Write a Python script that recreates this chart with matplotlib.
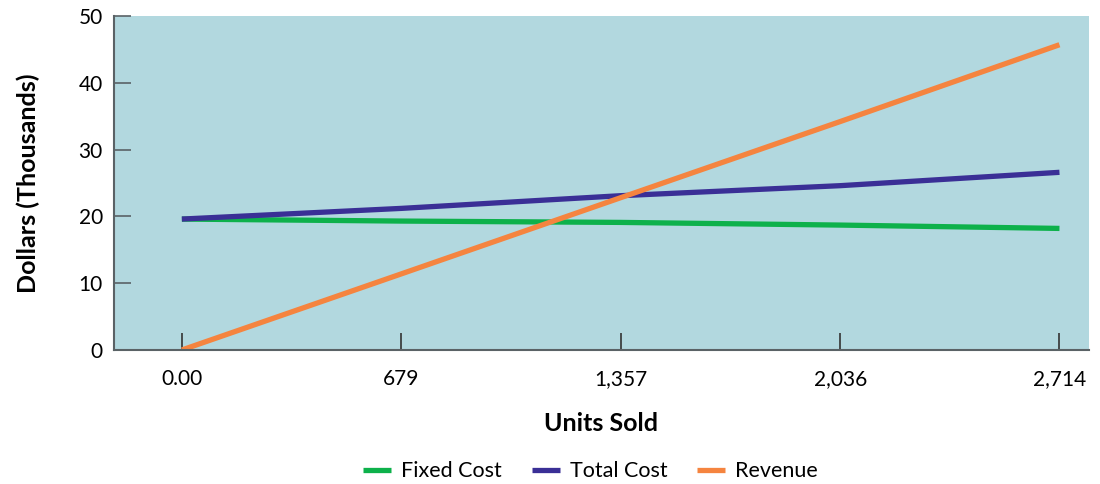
import matplotlib.pyplot as plt
from matplotlib.ticker import FixedLocator

units = [0, 679, 1357, 2036, 2714]
tick_labels = ["0.00", "679", "1,357", "2,036", "2,714"]
fixed_cost = [19.6, 19.3, 19.1, 18.7, 18.2]
total_cost = [19.6, 21.2, 23.1, 24.6, 26.6]
revenue = [0, 11.4, 22.8, 34.2, 45.7]

plt.rcParams['font.family'] = ['Lato', 'DejaVu Sans']

fig = plt.figure(figsize=(11, 4.84), dpi=100)
ax = fig.add_axes([0.1036, 0.2769, 0.886, 0.690])
ax.set_facecolor('#b2d8df')

ax.plot(units, fixed_cost, color='#0db14b', lw=3.8, label='Fixed Cost', solid_capstyle='butt')
ax.plot(units, total_cost, color='#3a2f96', lw=3.8, label='Total Cost', solid_capstyle='butt')
ax.plot(units, revenue, color='#f5843f', lw=3.8, label='Revenue', solid_capstyle='butt')

ax.set_xlim(-210, 2804)
ax.set_ylim(0, 50)
ax.xaxis.set_major_locator(FixedLocator(units))
ax.set_xticklabels(tick_labels)
ax.set_yticks([0, 10, 20, 30, 40, 50])

for s in ['top', 'right']:
    ax.spines[s].set_visible(False)
for s in ['left', 'bottom']:
    ax.spines[s].set_color('#5a6266')
    ax.spines[s].set_linewidth(1.5)

ax.tick_params(axis='x', direction='in', length=12, width=1.2, color='#333333', pad=14, labelsize=15)
ax.tick_params(axis='y', direction='in', length=12, width=1.2, color='#5a6266', pad=8, labelsize=15)

ax.set_xlabel('Units Sold', fontsize=18, fontweight='bold', labelpad=16)
ax.set_ylabel('Dollars (Thousands)', fontsize=18, fontweight='bold', labelpad=28)

ax.legend(loc='upper center', bbox_to_anchor=(0.489, -0.275), ncol=3, frameon=False,
          fontsize=15.5, handlelength=1.3, handletextpad=0.45, columnspacing=1.4)

plt.savefig('out.png', dpi=100)
plt.close()
